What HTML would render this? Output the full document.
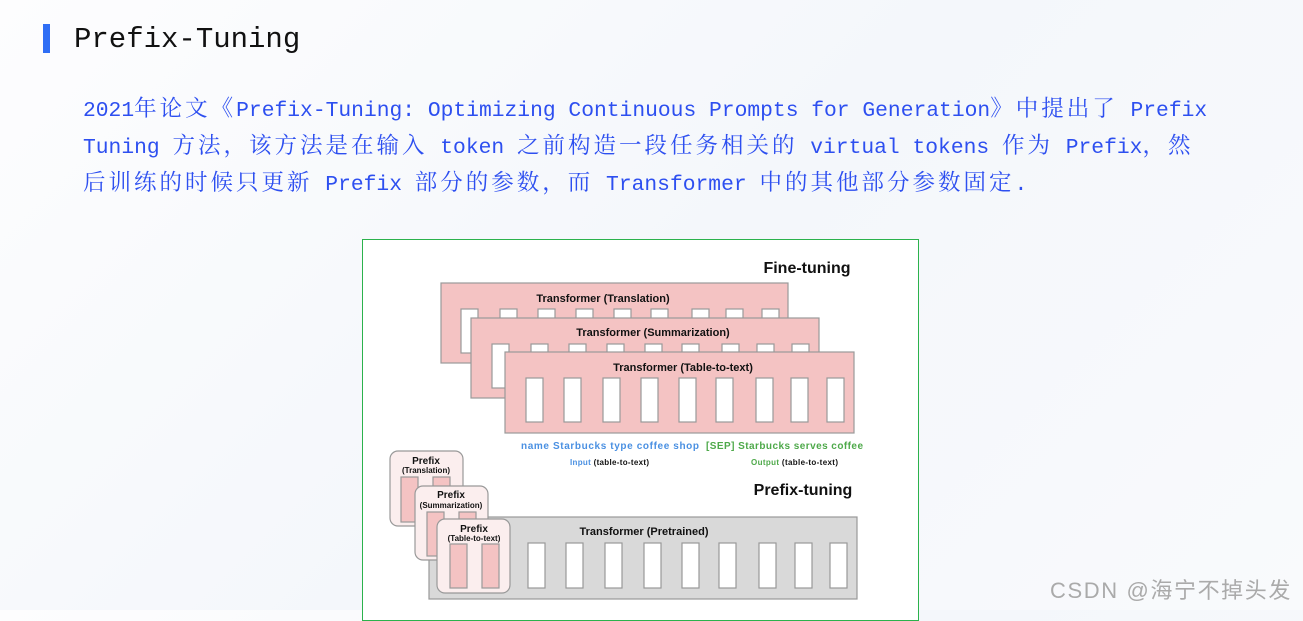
<!DOCTYPE html>
<html><head><meta charset="utf-8"><style>
html,body{margin:0;padding:0}
body{width:1303px;height:610px;overflow:hidden;position:relative;background:linear-gradient(135deg,#fdfdfe 0%,#f4f7fb 50%,#f9fafc 100%);}
.t{position:absolute;white-space:nowrap}
#title{left:74px;top:23px;font:29px "Liberation Mono","Noto Serif CJK SC",monospace;color:#111;}
#bar{position:absolute;left:43px;top:24px;width:7px;height:29px;background:#2f6ef5}
.p{left:83px;font:21.3px "Liberation Mono","Noto Serif CJK SC",monospace;color:#2d4ff0;}
.p span{font-family:"Noto Serif CJK SC",serif;font-size:22.5px;letter-spacing:3.0px}
#img{position:absolute;left:362px;top:239px;width:555px;height:380px;border:1px solid #2bb24c;background:#fff}
svg text{font-family:"Liberation Sans",sans-serif;font-weight:bold}
</style></head><body>
<div id="bar"></div>
<div class="t" id="title">Prefix-Tuning</div>
<div class="t p" style="top:91px">2021<span>年论文《</span>Prefix-Tuning: Optimizing Continuous Prompts for Generation<span>》中提出了</span> Prefix</div>
<div class="t p" style="top:128px">Tuning <span>方法，该方法是在输入</span> token <span>之前构造一段任务相关的</span> virtual tokens <span>作为</span> Prefix<span>，然</span></div>
<div class="t p" style="top:165px"><span>后训练的时候只更新</span> Prefix <span>部分的参数，而</span> Transformer <span>中的其他部分参数固定</span>.</div>
<div id="img"></div>
<svg style="position:absolute;left:0;top:0" width="1303" height="610">
<g stroke="#999" stroke-width="1.2">
<rect x="441" y="283" width="347" height="80" fill="#f4c3c3"/>
<g fill="#fff">
<rect x="461" y="309" width="17" height="44"/>
<rect x="500" y="309" width="17" height="20"/><rect x="538" y="309" width="17" height="20"/><rect x="576" y="309" width="17" height="20"/><rect x="614" y="309" width="17" height="20"/><rect x="651" y="309" width="17" height="20"/><rect x="692" y="309" width="17" height="20"/><rect x="726" y="309" width="17" height="20"/><rect x="762" y="309" width="17" height="20"/>
</g>
<rect x="471" y="318" width="348" height="80" fill="#f4c3c3"/>
<g fill="#fff">
<rect x="492" y="344" width="17" height="44"/>
<rect x="531" y="344" width="17" height="20"/><rect x="569" y="344" width="17" height="20"/><rect x="607" y="344" width="17" height="20"/><rect x="645" y="344" width="17" height="20"/><rect x="682" y="344" width="17" height="20"/><rect x="722" y="344" width="17" height="20"/><rect x="757" y="344" width="17" height="20"/><rect x="792" y="344" width="17" height="20"/>
</g>
<rect x="505" y="352" width="349" height="81" fill="#f4c3c3"/>
<g fill="#fff">
<rect x="526" y="378" width="17" height="44"/><rect x="564" y="378" width="17" height="44"/><rect x="603" y="378" width="17" height="44"/><rect x="641" y="378" width="17" height="44"/><rect x="679" y="378" width="17" height="44"/><rect x="716" y="378" width="17" height="44"/><rect x="756" y="378" width="17" height="44"/><rect x="791" y="378" width="17" height="44"/><rect x="827" y="378" width="17" height="44"/>
</g>
<rect x="429" y="517" width="428" height="82" fill="#d9d9d9"/>
<g fill="#fff">
<rect x="528" y="543" width="17" height="45"/><rect x="566" y="543" width="17" height="45"/><rect x="605" y="543" width="17" height="45"/><rect x="644" y="543" width="17" height="45"/><rect x="682" y="543" width="17" height="45"/><rect x="719" y="543" width="17" height="45"/><rect x="759" y="543" width="17" height="45"/><rect x="795" y="543" width="17" height="45"/><rect x="830" y="543" width="17" height="45"/>
</g>
<rect x="390" y="451" width="73" height="75" rx="8" fill="#fbeeee"/>
<rect x="401" y="477" width="17" height="45" fill="#f4c3c3"/><rect x="433" y="477" width="17" height="20" fill="#f4c3c3"/>
<rect x="415" y="486" width="73" height="74" rx="8" fill="#fbeeee"/>
<rect x="427" y="512" width="17" height="44" fill="#f4c3c3"/><rect x="459" y="512" width="17" height="20" fill="#f4c3c3"/>
<rect x="437" y="519" width="73" height="74" rx="8" fill="#fbeeee"/>
<rect x="450" y="544" width="17" height="44" fill="#f4c3c3"/><rect x="482" y="544" width="17" height="44" fill="#f4c3c3"/>
</g>
<g fill="#111" text-anchor="middle">
<text x="807" y="273" font-size="16">Fine-tuning</text>
<text x="803" y="495" font-size="16">Prefix-tuning</text>
<text x="603" y="302" font-size="11">Transformer (Translation)</text>
<text x="653" y="336" font-size="11">Transformer (Summarization)</text>
<text x="683" y="371" font-size="11">Transformer (Table-to-text)</text>
<text x="644" y="535" font-size="11">Transformer  (Pretrained)</text>
<text x="426" y="464" font-size="10">Prefix</text><text x="426" y="473" font-size="8">(Translation)</text>
<text x="451" y="498" font-size="10">Prefix</text><text x="451" y="508" font-size="8">(Summarization)</text>
<text x="474" y="532" font-size="10">Prefix</text><text x="474" y="541" font-size="8">(Table-to-text)</text>
</g>
<g font-size="10" text-anchor="start">
<text x="521" y="449" fill="#4a90e2" textLength="178" lengthAdjust="spacing">name  Starbucks  type  coffee  shop</text>
<text x="706" y="449" fill="#4ea94a" textLength="157" lengthAdjust="spacing">[SEP] Starbucks  serves  coffee</text>
<text x="570" y="465" font-size="8" fill="#4a90e2" textLength="79">Input <tspan fill="#111">(table-to-text)</tspan></text>
<text x="751" y="465" font-size="8" fill="#4ea94a" textLength="87">Output <tspan fill="#111">(table-to-text)</tspan></text>
</g>
</svg>
<div class="t" style="left:1050px;top:573px;font:22px 'Liberation Sans','Noto Sans CJK SC',sans-serif;letter-spacing:1.6px;color:#aaa">CSDN @海宁不掉头发</div>
</body></html>
